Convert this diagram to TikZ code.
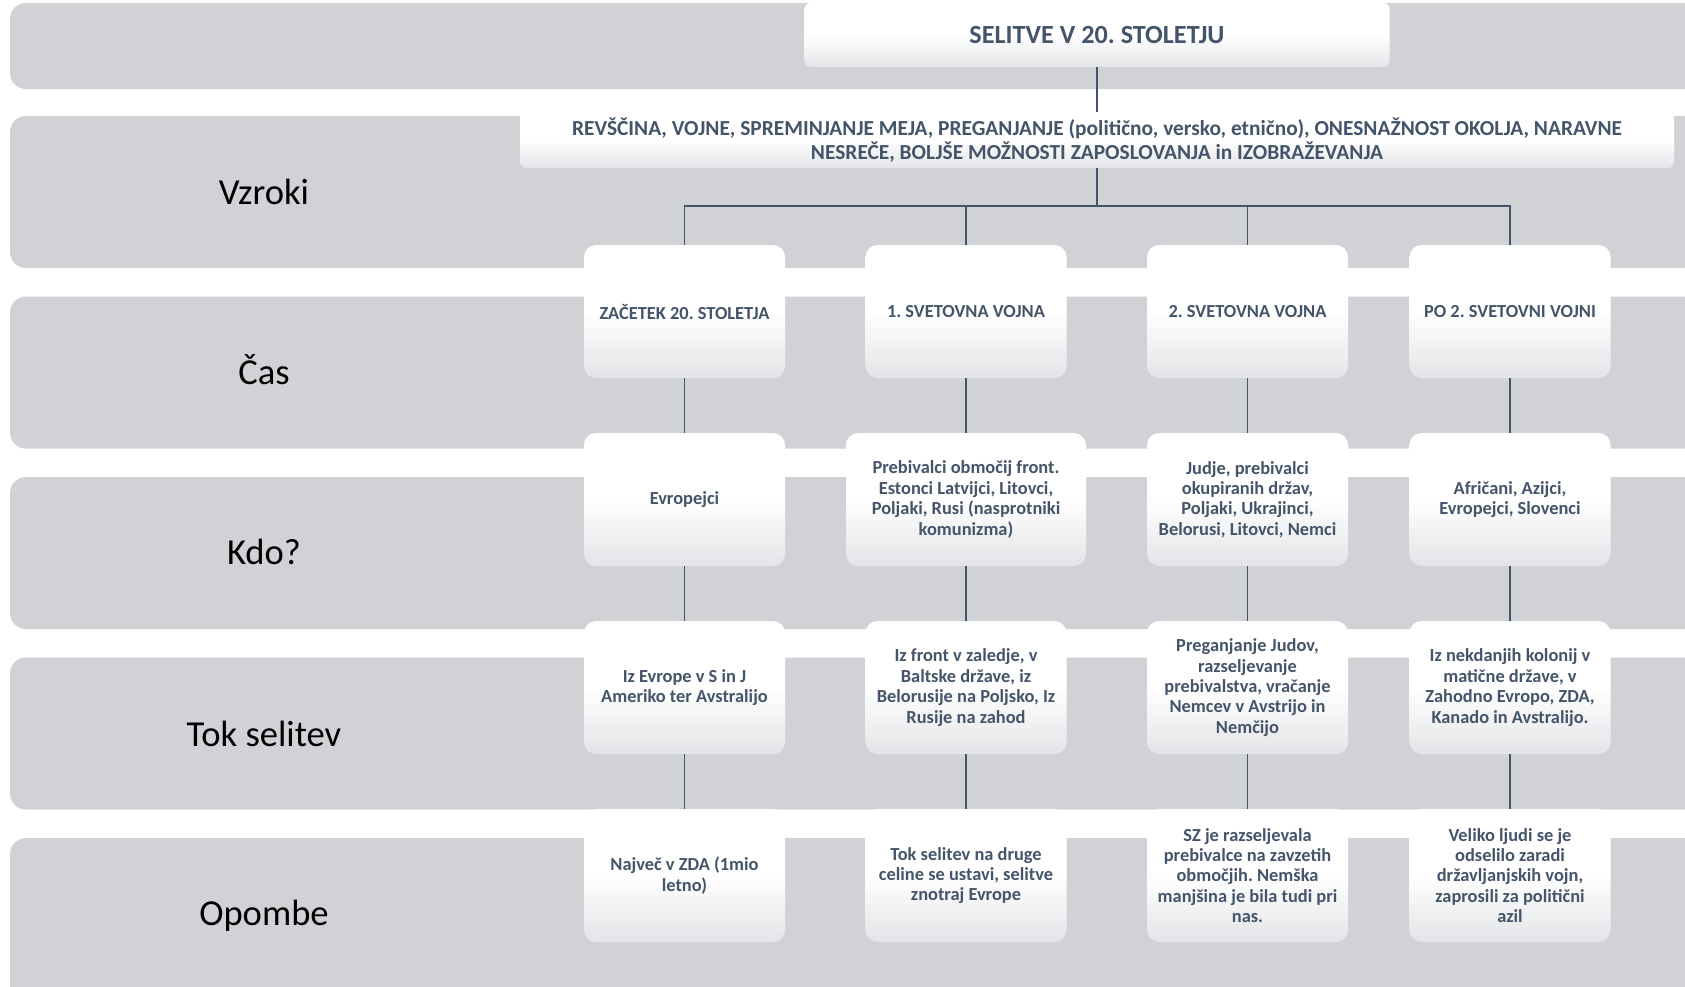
\documentclass[tikz,border=0pt]{standalone}
\usepackage{fontspec}
\setmainfont{Carlito}
\usetikzlibrary{positioning}
\frenchspacing
\definecolor{slband}{HTML}{D0D2D6}
\definecolor{slink}{HTML}{44546A}
\definecolor{sltext}{HTML}{44546A}
\definecolor{slshade}{HTML}{E3E4E7}
\tikzset{
  band/.style={fill=slband,rounded corners=8pt},
  rowlabel/.style={font=\fontsize{18.3}{21}\selectfont,text=black},
  cell/.style={rectangle,rounded corners=6pt,top color=white,bottom color=slshade,middle color=white,minimum width=100.5pt,minimum height=66.5pt,inner sep=2pt,align=center,font=\fontsize{9.2}{10.2}\selectfont\bfseries,text=sltext},
  headbox/.style={rectangle,rounded corners=3pt,top color=white,bottom color=slshade,middle color=white,align=center,inner sep=2pt,text=sltext},
  link/.style={draw=slink,line width=.6pt},
}

\begin{document}
\begin{tikzpicture}[x=.5pt,y=-.5pt]
  \clip (0,0) rectangle (1685,986);
  \fill[white] (0,0) rectangle (1685,986);
  \fill[band] (10,3) rectangle (1720,89);
  \fill[band] (10,116) rectangle (1720,268);
  \fill[band] (10,296.5) rectangle (1720,448.5);
  \fill[band] (10,477) rectangle (1720,629);
  \fill[band] (10,657.5) rectangle (1720,809.5);
  \fill[band] (10,838) rectangle (1720,1010);
  \node[rowlabel] (lcause) at (264,192) {Vzroki};
  \node[rowlabel] (ltime) at (264,369.5) {Čas};
  \node[rowlabel] (lwho) at (264,552) {Kdo?};
  \node[rowlabel] (lflow) at (264,733.5) {Tok selitev};
  \node[rowlabel] (lnote) at (264,916) {Opombe};
  \node[headbox,minimum width=292.5pt,minimum height=32pt,font=\fontsize{13.1}{15}\selectfont\bfseries] (title) at (1097,35) {SELITVE V 20. STOLETJU};
  \node[headbox,minimum width=577pt,minimum height=28pt,font=\fontsize{10.7}{11.7}\selectfont\bfseries] (causes) at (1097,140) {REVŠČINA, VOJNE, SPREMINJANJE MEJA, PREGANJANJE (politično, versko, etnično), ONESNAŽNOST OKOLJA, NARAVNE\\NESREČE, BOLJŠE MOŽNOSTI ZAPOSLOVANJA in IZOBRAŽEVANJA};
  \coordinate (hub) at (1097,206);
  \node[cell] (t1) at (684.5,311.5) {ZAČETEK 20. STOLETJA};
  \node[cell] (t2) at (966,311.5) {1. SVETOVNA VOJNA};
  \node[cell] (t3) at (1247.5,311.5) {2. SVETOVNA VOJNA};
  \node[cell] (t4) at (1510,311.5) {PO 2. SVETOVNI VOJNI};
  \node[cell] (w1) at (684.5,499.5) {Evropejci};
  \node[cell,minimum width=120pt] (w2) at (966,499.5) {Prebivalci območij front.\\Estonci Latvijci, Litovci,\\Poljaki, Rusi (nasprotniki\\komunizma)};
  \node[cell] (w3) at (1247.5,499.5) {Judje, prebivalci\\okupiranih držav,\\Poljaki, Ukrajinci,\\Belorusi, Litovci, Nemci};
  \node[cell] (w4) at (1510,499.5) {Afričani, Azijci,\\Evropejci, Slovenci};
  \node[cell] (f1) at (684.5,687.5) {Iz Evrope v S in J\\Ameriko ter Avstralijo};
  \node[cell] (f2) at (966,687.5) {Iz front v zaledje, v\\Baltske države, iz\\Belorusije na Poljsko, Iz\\Rusije na zahod};
  \node[cell] (f3) at (1247.5,687.5) {Preganjanje Judov,\\razseljevanje\\prebivalstva, vračanje\\Nemcev v Avstrijo in\\Nemčijo};
  \node[cell] (f4) at (1510,687.5) {Iz nekdanjih kolonij v\\matične države, v\\Zahodno Evropo, ZDA,\\Kanado in Avstralijo.};
  \node[cell] (n1) at (684.5,875.5) {Največ v ZDA (1mio\\letno)};
  \node[cell] (n2) at (966,875.5) {Tok selitev na druge\\celine se ustavi, selitve\\znotraj Evrope};
  \node[cell] (n3) at (1247.5,875.5) {SZ je razseljevala\\prebivalce na zavzetih\\območjih. Nemška\\manjšina je bila tudi pri\\nas.};
  \node[cell] (n4) at (1510,875.5) {Veliko ljudi se je\\odselilo zaradi\\državljanjskih vojn,\\zaprosili za politični\\azil};
  \draw[link] (title.south) -- (causes.north) (causes.south) -- (hub);
  \draw[link] (hub) -| (t1.north) (hub) -| (t2.north) (hub) -| (t3.north) (hub) -| (t4.north);
  \draw[link] (t1)--(w1)--(f1)--(n1) (t2)--(w2)--(f2)--(n2);
  \draw[link] (t3)--(w3)--(f3)--(n3) (t4)--(w4)--(f4)--(n4);
\end{tikzpicture}
\end{document}
